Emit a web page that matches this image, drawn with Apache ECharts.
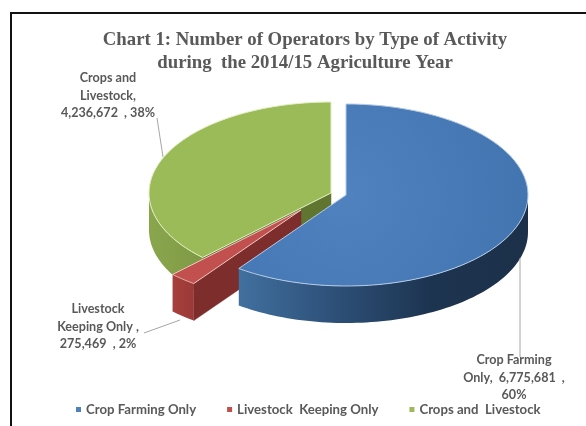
<!DOCTYPE html>
<html>
<head>
<meta charset="utf-8">
<style>html,body{margin:0;padding:0;background:#fff}#c{width:586px;height:426px}</style>
<script src="https://cdn.jsdelivr.net/npm/echarts@6/dist/echarts.min.js"></script>
</head>
<body>
<div id="c"></div>
<script>
const categories = ['Crop Farming Only', 'Livestock  Keeping Only', 'Crops and  Livestock'];
const values = [6775681, 275469, 4236672];
const titleLines = 'Chart 1: Number of Operators by Type of Activity\nduring  the 2014/15 Agriculture Year';
const labelLines = [
  ['Crop Farming', 'Only,  6,775,681  ,', '60%'],
  ['Livestock', 'Keeping Only ,', '275,469  , 2%'],
  ['Crops and', 'Livestock,', '4,236,672  , 38%']
];

const total = values.reduce((a, b) => a + b, 0);
const RX = 182, RY = 91, DEPTH = 37;
const centers = [[346, 195], [301, 210], [331, 193]];
const G = echarts.graphic;
const grad = (x0, x1, stops) => new G.LinearGradient(x0, 0, x1, 0, stops.map((c, i) => ({offset: i / (stops.length - 1), color: c})), true);
const looks = [
  {color: '#4f81bd', top: new G.RadialGradient(346, 195, 190, [{offset: 0, color: '#4f82bf'}, {offset: 1, color: '#4274b0'}], true),
   wall: grad(238, 527, ['#41709f', '#2d5078', '#1d3450', '#1c3049']), cut: '#2f5480', edge: '#b4cae6'},
  {color: '#c0504d', top: '#c2504e', wall: grad(172, 193, ['#a83f3c', '#9a3a38']), cut: '#7c2d2c', edge: '#f0c8c6'},
  {color: '#9bbb59', top: '#9bbb59', wall: grad(149, 240, ['#8aa64d', '#76913e']), cut: '#5f7530', edge: '#e4f0c4'}
];
const leaders = [
  [[520, 258], [520, 357]],
  [[180, 320], [144, 333]],
  [[163, 157], [157, 118]]
];
const labelPos = [[514, 360], [98, 309], [108, 78]];
const LINE_H = 17.5;

function angles(i) {
  let acc = 0;
  for (let k = 0; k < i; k++) acc += values[k];
  return [acc / total * Math.PI * 2, (acc + values[i]) / total * Math.PI * 2];
}
function rim(c, a, b, dy) {
  const pts = [], n = 80;
  for (let k = 0; k <= n; k++) {
    const t = a + (b - a) * k / n;
    pts.push([c[0] + RX * Math.sin(t), c[1] - RY * Math.cos(t) + dy]);
  }
  return pts;
}
function makeRender(i) {
  return function () {
    const [a, b] = angles(i), c = centers[i], look = looks[i], ch = [];
    const poly = (points, fill, stroke, lw) => ch.push({type: 'polygon', shape: {points}, style: {fill, stroke: stroke || fill, lineWidth: lw === undefined ? 0.5 : lw}});
    const wa = Math.max(a, Math.PI / 2), wb = Math.min(b, Math.PI * 1.5);
    if (i > 0) {
      const p = rim(c, a, a, 0)[0];
      poly([c, p, [p[0], p[1] + DEPTH], [c[0], c[1] + DEPTH]], look.cut);
    }
    if (wb > wa) {
      const topR = rim(c, wa, wb, 0), botR = rim(c, wa, wb, DEPTH).reverse();
      poly(topR.concat(botR), look.wall, 'transparent', 0);
    }
    poly([c].concat(rim(c, a, b, 0)), look.top, look.edge, 1);
    return {type: 'group', children: ch};
  };
}
function overlayRender() {
  const ch = [];
  leaders.forEach(l => ch.push({type: 'polyline', shape: {points: l}, style: {stroke: '#a6a6a6', fill: 'none', lineWidth: 1}}));
  labelLines.forEach((lines, i) => lines.forEach((t, j) => ch.push({
    type: 'text', x: labelPos[i][0], y: labelPos[i][1] + j * LINE_H,
    style: {text: t, fill: '#595959', font: 'bold 12.6px Lato', align: 'center', verticalAlign: 'middle'}
  })));
  return {type: 'group', children: ch};
}

const chart = echarts.init(document.getElementById('c'), null, {renderer: 'canvas'});
const series = [2, 1, 0].map(i => ({
  type: 'custom', name: categories[i], coordinateSystem: 'none', silent: true, animation: false,
  itemStyle: {color: looks[i].color}, data: [[values[i]]], renderItem: makeRender(i), z: 3 - i
}));
series.push({type: 'custom', name: 'labels', coordinateSystem: 'none', silent: true, animation: false, data: [[0]], renderItem: overlayRender, z: 10});
chart.setOption({
  animation: false,
  backgroundColor: '#fff',
  title: {text: titleLines, left: 300, textAlign: 'center', top: 24,
    textStyle: {fontFamily: 'Liberation Serif', fontWeight: 'bold', fontSize: 18.8, color: '#595959', lineHeight: 23}},
  legend: {data: categories, left: 76, top: 403, icon: 'rect', itemWidth: 5, itemHeight: 5, itemGap: 31, padding: 0,
    textStyle: {fontFamily: 'Lato', fontWeight: 'bold', fontSize: 13.2, color: '#595959'}},
  graphic: [{type: 'polyline', silent: true, z: 20, shape: {points: [[11, 426], [11, 13], [586, 13]]}, style: {stroke: '#111', fill: 'none', lineWidth: 2}}],
  series
});
</script>
</body>
</html>
